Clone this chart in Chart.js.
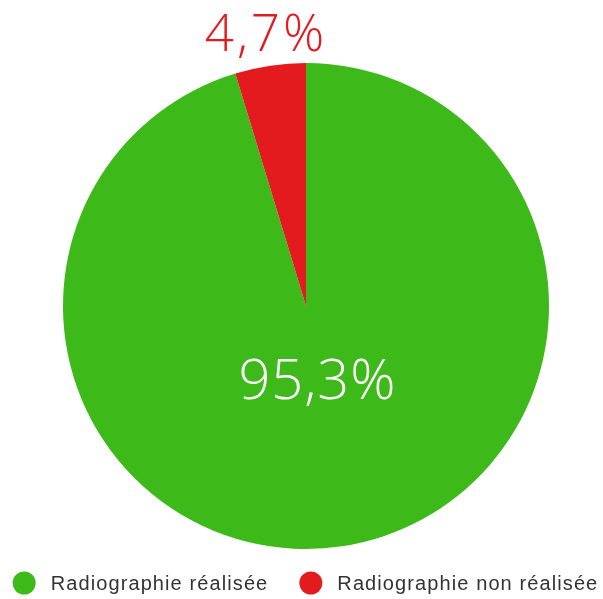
<!DOCTYPE html>
<html>
<head>
<meta charset="utf-8">
<script src="https://cdn.jsdelivr.net/npm/chart.js@4.4.0/dist/chart.umd.min.js"></script>
<style>
  html, body { margin: 0; padding: 0; background: #fff; }
  #wrap { width: 603px; height: 599px; }
</style>
</head>
<body>
<div id="wrap"><canvas id="pieChart"></canvas></div>
<script>
const categories = ['Radiographie réalisée', 'Radiographie non réalisée'];
const values = [95.3, 4.7];
const valueLabels = ['95,3%', '4,7%'];
const colors = ['#3dba19', '#e31b1f'];

// légende dessinée à la main (la légende native passe sur deux lignes)
const bottomLegend = {
  id: 'bottomLegend',
  afterDraw(chart) {
    const ctx = chart.ctx;
    const y = chart.height - 16;
    const r = 11.5, gap = 15, between = 31;
    ctx.save();
    ctx.font = '20px "Liberation Sans", Arial, sans-serif';
    ctx.letterSpacing = '1.1px';
    ctx.textBaseline = 'middle';
    const widths = categories.map(c => ctx.measureText(c).width);
    const total = widths.reduce((s, w) => s + 2 * r + gap + w, 0) + between * (categories.length - 1);
    let x = chart.width / 2 + 4 - total / 2;
    categories.forEach((c, i) => {
      ctx.fillStyle = colors[i];
      ctx.beginPath();
      ctx.arc(x + r, y, r, 0, Math.PI * 2);
      ctx.fill();
      ctx.fillStyle = '#333333';
      ctx.fillText(c, x + 2 * r + gap, y + 1);
      x += 2 * r + gap + widths[i] + between;
    });
    ctx.restore();
  }
};

// étiquettes de pourcentage : dedans pour la grande part, dehors pour la petite
const pctLabels = {
  id: 'pctLabels',
  afterDatasetsDraw(chart) {
    const ctx = chart.ctx;
    const arcs = chart.getDatasetMeta(0).data;
    ctx.save();
    ctx.textAlign = 'center';
    ctx.textBaseline = 'middle';
    arcs.forEach((arc, i) => {
      const mid = (arc.startAngle + arc.endAngle) / 2;
      const inside = values[i] > 50;
      const dist = inside ? arc.outerRadius * 0.32 : arc.outerRadius * 1.12;
      const x = arc.x + Math.cos(mid) * dist;
      const y = arc.y + Math.sin(mid) * dist;
      ctx.fillStyle = inside ? '#ffffff' : colors[i];
      ctx.letterSpacing = inside ? '1px' : '3px';
      ctx.font = inside ? '300 56px "Open Sans"' : '300 51px "Open Sans"';
      ctx.fillText(valueLabels[i], x, y);
    });
    ctx.restore();
  }
};

new Chart(document.getElementById('pieChart'), {
  type: 'pie',
  data: {
    labels: categories,
    datasets: [{
      data: values,
      backgroundColor: colors,
      borderWidth: 0,
    }],
  },
  options: {
    responsive: true,
    maintainAspectRatio: false,
    animation: false,
    layout: { padding: { top: 63, left: 9, right: 0, bottom: 50 } },
    plugins: {
      tooltip: { enabled: false },
      legend: { display: false },
    },
  },
  plugins: [pctLabels, bottomLegend],
});
</script>
</body>
</html>
